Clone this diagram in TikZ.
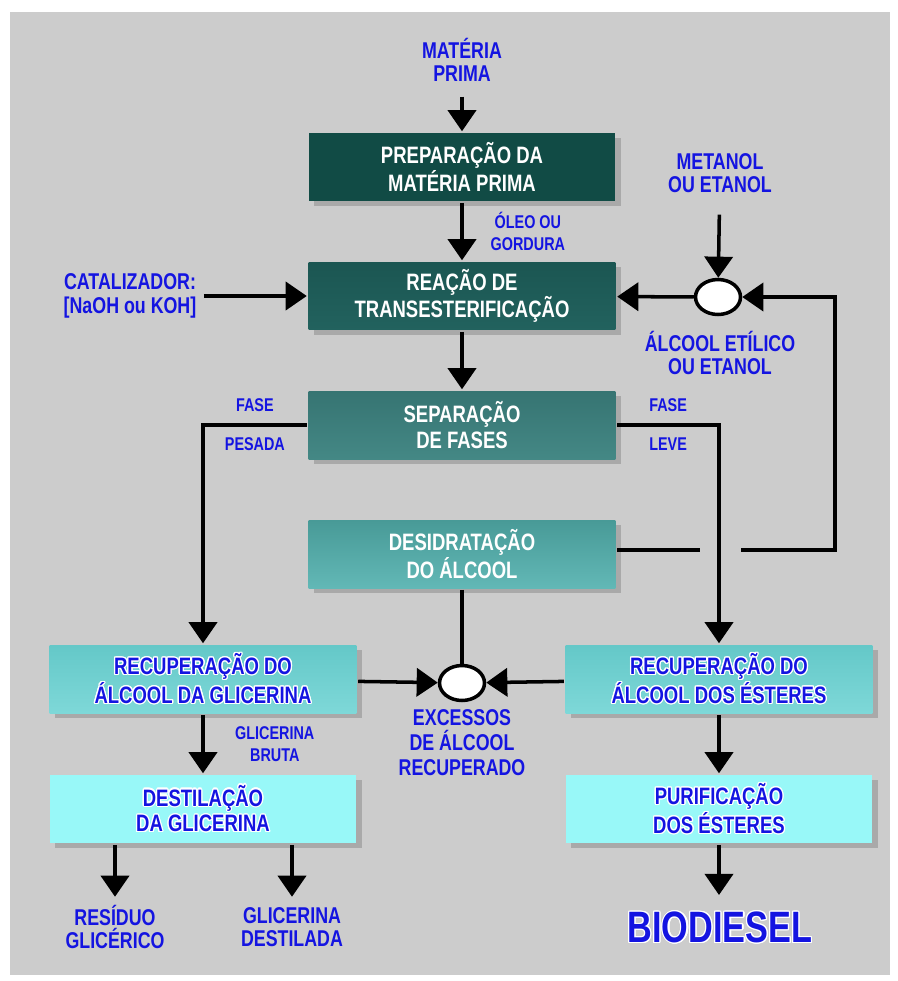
\documentclass[tikz,border=0pt]{standalone}
\usepackage{fontspec}
\setmainfont{Liberation Sans}[FakeStretch=0.78]
\usepackage{tikz}
\usetikzlibrary{positioning, arrows.meta, shapes.geometric, shadows}
\usepackage{contour}
\contourlength{0.7pt}
\def\midcol{462}
\def\leftcol{203}
\def\rightcol{719}
\definecolor{bggray}{RGB}{204,204,204}
\definecolor{lblue}{RGB}{20,20,225}
\newcommand{\outl}[1]{\contour{white}{#1}}

\begin{document}
\begin{tikzpicture}[x=0.02cm, y=-0.02cm, line width=2pt, >={Triangle[width=16pt,length=12pt]}]
	\tikzstyle{box}=[rectangle, minimum width=6.14cm, minimum height=1.36cm, align=center, font=\bfseries\fontsize{13.5}{14.5}\selectfont, drop shadow={opacity=0.45, shadow xshift=3pt, shadow yshift=-3pt}]
	\tikzstyle{dark box}=[box, text=white]
	\tikzstyle{light box}=[box, text=lblue]
	\tikzstyle{label}=[align=center, text=lblue, font=\bfseries\fontsize{13}{13.5}\selectfont]
	\tikzstyle{small}=[align=center, text=lblue, font=\bfseries\fontsize{10.5}{12.3}\selectfont]
	\tikzstyle{mixer}=[ellipse, draw=black, fill=white, minimum width=0.9cm, minimum height=0.7cm, inner sep=0pt]
	
	% Background
	\useasboundingbox (0,0) rectangle (897,981);
	\fill[white] (0,0) rectangle (897,981);
	\fill[bggray] (10,12) rectangle (890,975);
	
	% Draw the main column
	\node[label] (mp) at (\midcol, 60) {MATÉRIA\\PRIMA};
	\node[dark box, fill={rgb,255:red,17;green,75;blue,69}] (prep) at (\midcol, 167) {PREPARAÇÃO DA\\MATÉRIA PRIMA};
	\node[dark box, top color={rgb,255:red,27;green,86;blue,82}, bottom color={rgb,255:red,34;green,98;blue,94}] (reac) at (\midcol, 296) {REAÇÃO DE\\TRANSESTERIFICAÇÃO};
	\node[dark box, top color={rgb,255:red,54;green,116;blue,114}, bottom color={rgb,255:red,68;green,136;blue,133}] (sep) at (\midcol, 425) {SEPARAÇÃO\\DE FASES};
	\node[dark box, top color={rgb,255:red,72;green,154;blue,151}, bottom color={rgb,255:red,98;green,184;blue,182}] (desid) at (\midcol, 554) {DESIDRATAÇÃO\\DO ÁLCOOL};
	
	% Draw the side inputs
	\node[label] (cat) at (130, 296) {CATALIZADOR:\\{[NaOH ou KOH]}};
	\node[label] (met) at (720, 173) {METANOL\\OU ETANOL};
	\node[mixer] (mix1) at (718, 297) {};
	\node[label] (alc) at (720, 353) {ÁLCOOL ETÍLICO\\OU ETANOL};
	
	% Draw the recovery boxes
	\node[light box, top color={rgb,255:red,100;green,200;blue,200}, bottom color={rgb,255:red,126;green,216;blue,216}] (rga) at (\leftcol, 679) {\outl{RECUPERAÇÃO DO}\\\outl{ÁLCOOL DA GLICERINA}};
	\node[light box, top color={rgb,255:red,100;green,200;blue,200}, bottom color={rgb,255:red,126;green,216;blue,216}] (rde) at (\rightcol, 679) {\outl{RECUPERAÇÃO DO}\\\outl{ÁLCOOL DOS ÉSTERES}};
	\node[mixer] (mix2) at (\midcol, 683) {};
	\node[label, font=\bfseries\fontsize{13}{14.2}\selectfont] (exc) at (\midcol, 743) {EXCESSOS\\DE ÁLCOOL\\RECUPERADO};
	\node[light box, fill={rgb,255:red,152;green,248;blue,248}] (dest) at (\leftcol, 809) {\outl{DESTILAÇÃO}\\\outl{DA GLICERINA}};
	\node[light box, fill={rgb,255:red,152;green,248;blue,248}] (puri) at (\rightcol, 809) {\outl{PURIFICAÇÃO}\\\outl{DOS ÉSTERES}};
	
	% Draw the products
	\node[label] (res) at (115, 927) {RESÍDUO\\GLICÉRICO};
	\node[label] (gdest) at (292, 927) {GLICERINA\\DESTILADA};
	\node[label, font=\bfseries\fontsize{25}{27}\selectfont] (bio) at (720, 928) {\outl{BIODIESEL}};
	
	% Connect the main column
	\draw[->, shorten <=4pt] (mp) -- (prep);
	\draw[->] (prep) -- node[small, right=12pt] {ÓLEO OU\\GORDURA} (reac);
	\draw[->] (reac) -- (sep);
	\draw[->] (cat) -- (reac);
	\draw[->, shorten <=8pt] (met) -- (mix1);
	\draw[->] (mix1) -- (reac);
	
	% Split the phases
	\draw[->] (sep.west) -| node[small, pos=0.25, above=3pt] {FASE} node[small, pos=0.25, below=3pt] {PESADA} (rga);
	\draw[->] (sep.east) -| node[small, pos=0.25, above=3pt] {FASE} node[small, pos=0.25, below=3pt] {LEVE} (rde);
	
	% Alcohol loop back to the reaction
	\coordinate (gapL) at (700, 550);
	\coordinate (gapR) at (741, 550);
	\coordinate (loop) at (835, 550);
	\draw (desid.east |- gapL) -- (gapL);
	\draw[->] (gapR) -- (loop) |- (mix1);
	
	% Recovered alcohol
	\draw (desid) -- (mix2);
	\draw[->] (rga) -- (mix2);
	\draw[->] (rde) -- (mix2);
	
	% Down to the products
	\draw[->] (rga) -- node[small, right=14pt] {GLICERINA\\BRUTA} (dest);
	\draw[->] (rde) -- (puri);
	\draw[->] (dest.south -| res) -- ++(0, 52);
	\draw[->] (dest.south -| gdest) -- ++(0, 52);
	\draw[->] (puri) -- ++(0, 86);
\end{tikzpicture}
\end{document}
